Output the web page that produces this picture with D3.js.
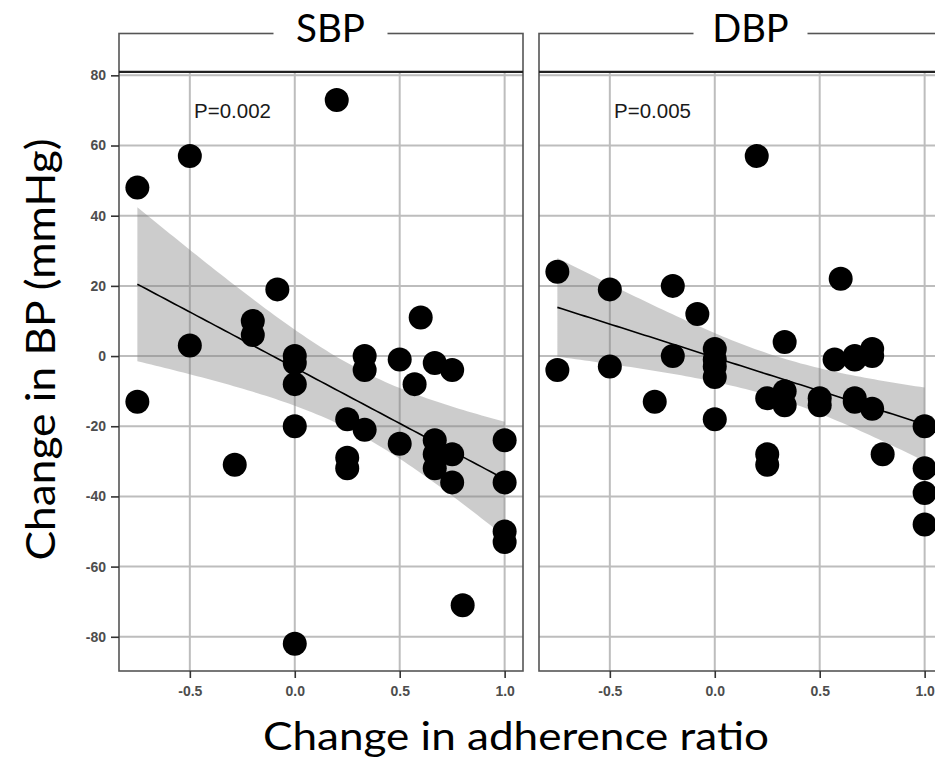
<!DOCTYPE html>
<html>
<head>
<meta charset="utf-8">
<script src="https://cdn.jsdelivr.net/npm/d3@7"></script>
<style>
  html, body { margin: 0; padding: 0; background: #fff; }
  svg { display: block; }
</style>
</head>
<body>
<svg id="chart" width="935" height="762"></svg>
<script>
// ---- Data ----
const panels = ["SBP", "DBP"];
const pValues = ["P=0.002", "P=0.005"];
const adherenceChange = [
  -0.75, -0.75, -0.5, -0.5, -0.286, -0.2, -0.2, -0.083,
  0, 0, 0, 0, 0, 0.2, 0.25, 0.25, 0.25, 0.333, 0.333, 0.333,
  0.5, 0.5, 0.571, 0.6, 0.667, 0.667, 0.667, 0.667,
  0.75, 0.75, 0.75, 0.8, 1.0, 1.0, 1.0, 1.0
];
const sbpChange = [
  48, -13, 57, 3, -31, 10, 6, 19,
  0, -2, -8, -20, -82, 73, -18, -29, -32, 0, -4, -21,
  -1, -25, -8, 11, -2, -24, -28, -32,
  -4, -28, -36, -71, -24, -36, -50, -53
];
const dbpAdherence = [
  -0.75, -0.75, -0.5, -0.5, -0.286, -0.2, -0.2, -0.083,
  0, 0, 0, 0, 0, 0.2, 0.25, 0.25, 0.25, 0.333, 0.333, 0.333,
  0.5, 0.5, 0.571, 0.6, 0.667, 0.667, 0.667, 0.667,
  0.75, 0.75, 0.75, 0.8, 1.0, 1.0, 1.0, 1.0
];
const dbpChange = [
  24, -4, 19, -3, -13, 20, 0, 12,
  2, -1, -3, -6, -18, 57, -12, -28, -31, 4, -10, -14,
  -12, -14, -1, 22, 0, -1, -12, -13,
  2, 0, -15, -28, -20, -32, -39, -48
];
const xTicks = [-0.5, 0, 0.5, 1.0];
const xTickLabels = ["-0.5", "0.0", "0.5", "1.0"];
const yTicks = [-80, -60, -40, -20, 0, 20, 40, 60, 80];
const yTickLabels = ["-80", "-60", "-40", "-20", "0", "20", "40", "60", "80"];
const xTitle = "Change in adherence ratio";
const yTitle = "Change in BP (mmHg)";

const seriesX = [adherenceChange, dbpAdherence];
const seriesY = [sbpChange, dbpChange];

// ---- Layout ----
const svg = d3.select("#chart");
const panelLeft = [119, 539];
const panelW = 404;
const stripTop = 33.5;
const panelTop = 72.7;
const panelBottom = 671;

const allX = adherenceChange.concat(dbpAdherence);
const allY = sbpChange.concat(dbpChange);
const xExt = d3.extent(allX), yExt = d3.extent(allY);
const xPad = (xExt[1] - xExt[0]) * 0.05, yPad = (yExt[1] - yExt[0]) * 0.05;
const xDomain = [xExt[0] - xPad, xExt[1] + xPad];
const yDomain = [yExt[0] - yPad, yExt[1] + yPad];

const y = d3.scaleLinear().domain(yDomain).range([panelBottom, panelTop]);

// linear fit with 95% CI (like geom_smooth(method = "lm"))
function lmFit(xs, ys) {
  const n = xs.length;
  const xm = d3.mean(xs), ym = d3.mean(ys);
  let sxx = 0, sxy = 0;
  for (let i = 0; i < n; i++) { sxx += (xs[i]-xm)**2; sxy += (xs[i]-xm)*(ys[i]-ym); }
  const b = sxy / sxx, a = ym - b * xm;
  let rss = 0;
  for (let i = 0; i < n; i++) rss += (ys[i] - a - b*xs[i])**2;
  const s = Math.sqrt(rss / (n - 2));
  const t = 2.032;
  const [lo, hi] = d3.extent(xs);
  const pts = d3.range(0, 81).map(k => {
    const xv = lo + (hi - lo) * k / 80;
    const fit = a + b * xv;
    const se = s * Math.sqrt(1/n + (xv - xm)**2 / sxx);
    return {x: xv, fit, lo: fit - t*se, hi: fit + t*se};
  });
  return pts;
}

panels.forEach((name, pi) => {
  const x0 = panelLeft[pi];
  const x = d3.scaleLinear().domain(xDomain).range([x0, x0 + panelW]);
  const g = svg.append("g");
  const clipId = "clip" + pi;
  svg.append("clipPath").attr("id", clipId).append("rect")
    .attr("x", x0).attr("y", panelTop).attr("width", panelW).attr("height", panelBottom - panelTop);

  // gridlines
  g.selectAll(".gy").data(yTicks).join("line")
    .attr("x1", x0).attr("x2", x0 + panelW)
    .attr("y1", d => y(d)).attr("y2", d => y(d))
    .attr("stroke", "#bdbdbd").attr("stroke-width", 2);
  g.selectAll(".gx").data(xTicks).join("line")
    .attr("x1", d => x(d)).attr("x2", d => x(d))
    .attr("y1", panelTop).attr("y2", panelBottom)
    .attr("stroke", "#bdbdbd").attr("stroke-width", 2);

  const xs = seriesX[pi], ys = seriesY[pi];
  const fit = lmFit(xs, ys);
  const plot = g.append("g").attr("clip-path", `url(#${clipId})`);
  plot.append("path").datum(fit)
    .attr("d", d3.area().x(d => x(d.x)).y0(d => y(d.lo)).y1(d => y(d.hi)))
    .attr("fill", "#7f7f7f").attr("fill-opacity", 0.4);
  plot.append("path").datum(fit)
    .attr("d", d3.line().x(d => x(d.x)).y(d => y(d.fit)))
    .attr("fill", "none").attr("stroke", "#000").attr("stroke-width", 1.6);
  plot.selectAll("circle").data(xs.map((v, i) => [v, ys[i]])).join("circle")
    .attr("cx", d => x(d[0])).attr("cy", d => y(d[1])).attr("r", 12)
    .attr("fill", "#000");

  // p-value annotation
  g.append("text").attr("x", x(-0.48)).attr("y", y(67.8))
    .attr("font-family", "'Liberation Sans', Arial, sans-serif")
    .attr("font-size", 20.5).attr("fill", "#1a1a1a").text(pValues[pi]);

  // panel + strip border
  g.append("rect").attr("x", x0).attr("y", stripTop).attr("width", panelW)
    .attr("height", panelBottom - stripTop)
    .attr("fill", "none").attr("stroke", "#555").attr("stroke-width", 1.6);
  g.append("line").attr("x1", x0).attr("x2", x0 + panelW)
    .attr("y1", panelTop - 0.8).attr("y2", panelTop - 0.8)
    .attr("stroke", "#222").attr("stroke-width", 2.4);

  // strip title with white gap
  const cx = x0 + panelW / 2 + 9.5;
  g.append("rect").attr("x", cx - 57).attr("y", stripTop - 4).attr("width", 114).attr("height", 8)
    .attr("fill", "#fff");
  g.append("text").attr("x", cx).attr("y", 41.7)
    .attr("text-anchor", "middle")
    .attr("font-family", "Lato, 'Open Sans', sans-serif")
    .attr("font-size", 38).attr("fill", "#000")
    .attr("textLength", pi === 0 ? 69 : 76.5).attr("lengthAdjust", "spacingAndGlyphs")
    .text(name);

  // x axis
  const xAxis = d3.axisBottom(x).tickValues(xTicks)
    .tickFormat((d, i) => xTickLabels[i]).tickSize(7).tickPadding(4);
  const ax = svg.append("g").attr("transform", `translate(0,${panelBottom})`).call(xAxis);
  ax.select(".domain").remove();
  ax.selectAll(".tick line").attr("stroke", "#333").attr("stroke-width", 1.6);
  ax.selectAll(".tick text")
    .attr("font-family", "'Liberation Sans', Arial, sans-serif")
    .attr("font-size", 14).attr("font-weight", "bold").attr("fill", "#4d4d4d")
    .attr("dy", null).attr("y", 25);

  if (pi === 0) {
    const yAxis = d3.axisLeft(y).tickValues(yTicks)
      .tickFormat((d, i) => yTickLabels[i]).tickSize(8).tickPadding(5);
    const ay = svg.append("g").attr("transform", `translate(${x0},0)`).call(yAxis);
    ay.select(".domain").remove();
    ay.selectAll(".tick line").attr("stroke", "#333").attr("stroke-width", 1.6);
    ay.selectAll(".tick text")
      .attr("font-family", "'Liberation Sans', Arial, sans-serif")
      .attr("font-size", 14).attr("font-weight", "bold").attr("fill", "#4d4d4d");
  }
});

// axis titles
svg.append("text").attr("x", 263).attr("y", 750)
  .attr("font-family", "Lato, 'Open Sans', sans-serif")
  .attr("font-size", 38).attr("fill", "#000")
  .attr("textLength", 506).attr("lengthAdjust", "spacingAndGlyphs")
  .text(xTitle);
svg.append("text")
  .attr("transform", "translate(55,349.5) rotate(-90)")
  .attr("text-anchor", "middle")
  .attr("font-family", "Lato, 'Open Sans', sans-serif")
  .attr("font-size", 40).attr("fill", "#000")
  .attr("textLength", 422).attr("lengthAdjust", "spacingAndGlyphs")
  .text(yTitle);
</script>
</body>
</html>
